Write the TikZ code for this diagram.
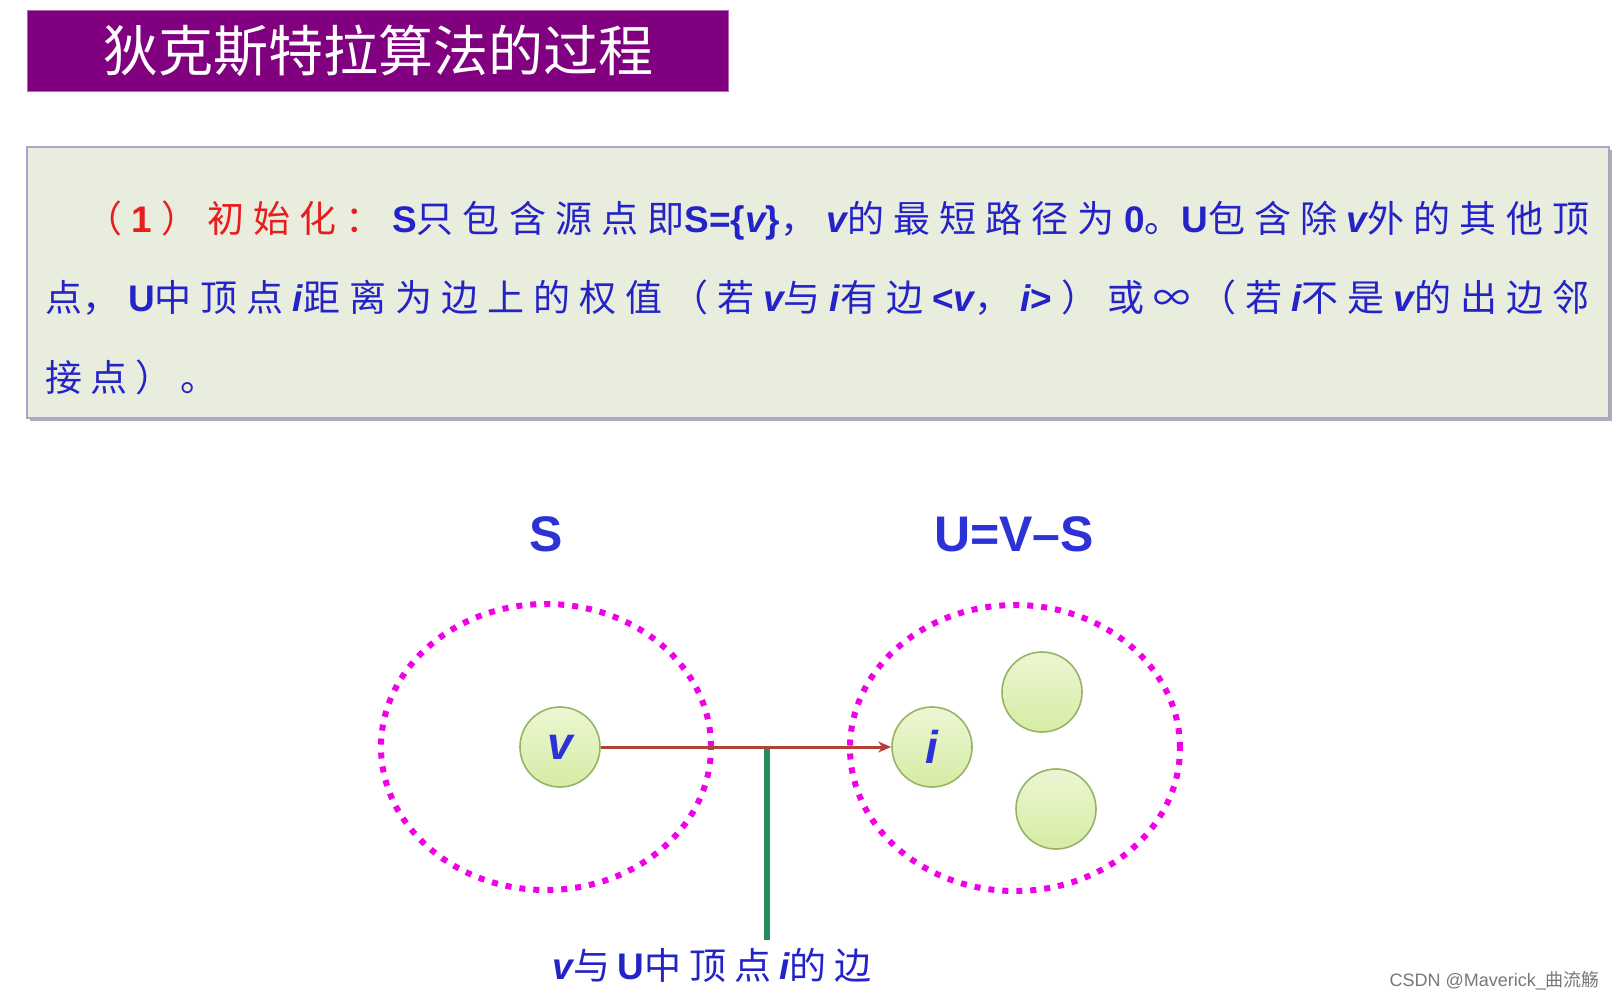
\documentclass[tikz,border=0pt]{standalone}
\usepackage{fontspec}
\usetikzlibrary{arrows.meta,shapes.geometric}
\setmainfont{Liberation Sans}
\newfontfamily\cjk{Noto Sans CJK SC}
\definecolor{ttlpurple}{RGB}{128,0,128}
\definecolor{boxfill}{RGB}{233,237,222}
\definecolor{boxline}{RGB}{170,165,200}
\definecolor{boxshadow}{RGB}{175,175,175}
\definecolor{txtblue}{RGB}{35,35,200}
\definecolor{txtred}{RGB}{230,30,30}
\definecolor{lblblue}{RGB}{45,50,215}
\definecolor{dotmag}{RGB}{240,0,230}
\definecolor{nodetop}{RGB}{236,246,210}
\definecolor{nodebot}{RGB}{214,236,165}
\definecolor{nodeline}{RGB}{150,180,100}
\definecolor{arrowred}{RGB}{180,65,55}
\definecolor{edgegreen}{RGB}{40,140,90}
\definecolor{markgray}{RGB}{120,120,120}
\newcommand\Lb[1]{{\rmfamily\bfseries #1}}
\newcommand\Li[1]{{\rmfamily\bfseries\itshape #1}}
\newcommand\spreadline[2]{\hbox to #1{\spaceskip=0pt plus 1fil\relax #2}}
\begin{document}
\begin{tikzpicture}[x=1pt,y=-1pt,
  vtx/.style={circle, minimum size=80pt, inner sep=0pt, draw=nodeline, line width=1.6pt,
    top color=nodetop, bottom color=nodebot, text=lblblue,
    font=\rmfamily\bfseries\itshape\fontsize{46}{46}\selectfont},
  setring/.style={ellipse, draw=dotmag, line width=6pt, dash pattern=on 6pt off 8pt,
    minimum width=330pt, minimum height=286pt, inner sep=0pt},
  setlabel/.style={text=lblblue, inner sep=0pt, font=\rmfamily\bfseries\fontsize{50}{50}\selectfont},
  bodytext/.style={anchor=base west, inner sep=0pt, text=txtblue, font=\cjk\fontsize{37}{37}\selectfont},
  arrowline/.style={draw=arrowred, line width=3pt, -{Stealth[length=13pt,width=11pt,inset=4pt]}},
  greenline/.style={draw=edgegreen, line width=6pt}]
\useasboundingbox (0,0) rectangle (1616,999);
\fill[white] (0,0) rectangle (1616,999);

% title
\node[fill=ttlpurple, draw=ttlpurple!60, line width=1pt, minimum width=701pt, minimum height=81pt,
  inner sep=0pt, text=white, font=\cjk\fontsize{55}{55}\selectfont] (title) at (377.5,50.5) {\hspace*{2pt}狄克斯特拉算法的过程};

% text box
\fill[boxshadow] (30,150) rectangle (1612,421);
\node[fill=boxfill, draw=boxline, line width=2pt, minimum width=1582pt, minimum height=271pt,
  inner sep=0pt] (tbox) at (818,282.5) {};

\node[bodytext] (l1) at (85,232) {\spreadline{1504pt}{{\color{txtred}（ \Lb{1} ） 初 始 化 ：} \Lb{S}只 包 含 源 点 即\Lb{S=\{}\Li{v}\Lb{\}}， \Li{v}的 最 短 路 径 为 \Lb{0}。\Lb{U}包 含 除 \Li{v}外 的 其 他 顶}};
\node[bodytext] (l2) at (45,311) {\spreadline{1544pt}{点， \Lb{U}中 顶 点 \Li{i}距 离 为 边 上 的 权 值 （ 若 \Li{v}与 \Li{i}有 边 \Lb{<}\Li{v}， \Li{i}\Lb{>} ） 或 ∞ （ 若 \Li{i}不 是 \Li{v}的 出 边 邻}};
\node[bodytext] (l3) at (45,391) {\spreadline{172pt}{接 点 ） 。}};

% sets
\node[setlabel] (Slbl) at (546,534) {S};
\node[setlabel] (Ulbl) at (1014,534) {U=V–S};
\node[setring] (Sset) at (546,747) {};
\node[setring] (Uset) at (1015,748) {};

% vertices
\node[vtx] (v) at (560,747) {v};
\node[vtx] (i) at (932,747) {i};
\node[vtx] (u1) at (1042,692) {};
\node[vtx] (u2) at (1056,809) {};

\draw[arrowline] (v) -- (i);

% edge label
\node[anchor=base, inner sep=0pt, text=txtblue, font=\cjk\fontsize{37}{37}\selectfont] (elbl) at (712,979)
  {\spreadline{319pt}{\Li{v}与 \Lb{U}中 顶 点 \Li{i}的 边}};
\coordinate (gtop) at (767,749);
\coordinate (gbot) at (767,940);
\draw[greenline] (gtop) -- (gbot);

% watermark
\node[anchor=base east, inner sep=0pt, text=markgray, font=\fontsize{18}{18}\selectfont] (mark) at (1600,986)
  {CSDN @Maverick\_{\cjk 曲流觞}};
\end{tikzpicture}
\end{document}
